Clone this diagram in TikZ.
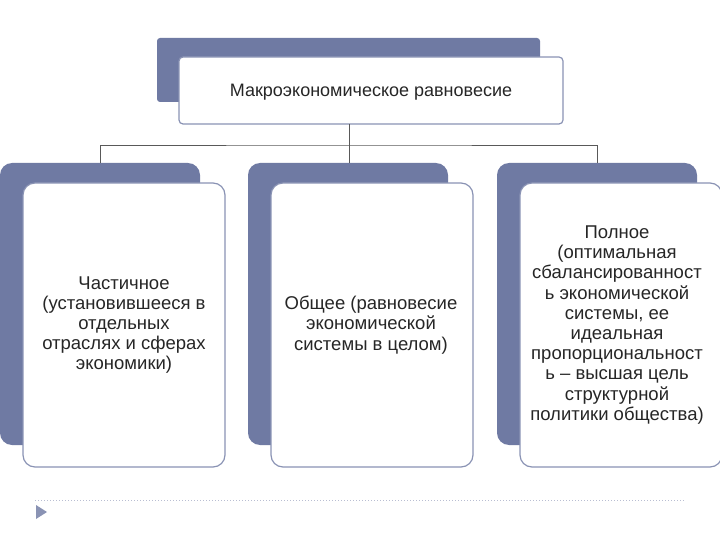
\documentclass[tikz,border=0pt]{standalone}
\usepackage{fontspec}
\setmainfont{Liberation Sans}
\definecolor{slate}{HTML}{6F7AA3}
\definecolor{edge}{HTML}{8A93B4}
\begin{document}
\begin{tikzpicture}[x=1pt,y=-1pt,
  back/.style={fill=slate,draw=none,rounded corners=12pt},
  front/.style={fill=white,draw=edge,line width=1.2pt,rounded corners=12pt},
  txt/.style={align=center,font=\fontsize{18.5}{20.2}\selectfont,text=black!85},
  conn/.style={draw=gray!70!black,line width=0.8pt}]
\useasboundingbox (0,0) rectangle (720,540);
\fill[slate,rounded corners=3pt] (157,38) rectangle (540,102);
\draw[front,rounded corners=4pt] (179,57) rectangle (563,124);
\node[txt,font=\fontsize{18}{20}\selectfont] (top) at (371,92) {Макроэкономическое равновесие};
\coordinate (tb) at (349,124);
\coordinate (j) at (349,145);
\foreach \i/\x/\cx in {1/0/100,2/248/349,3/497/597}{
  \fill[back] (\x,163) rectangle (\x+200,445);
  \draw[front] (\x+23,183) rectangle (\x+225,467);
  \coordinate (c\i) at (\cx,163);
}
\draw[conn] (tb) -- (j);
\draw[conn] (c1) |- (j) -| (c3);
\draw[conn] (j) -- (c2);
\node[txt] (a) at (124,325) {Частичное\\(установившееся в\\отдельных\\отраслях и сферах\\экономики)};
\node[txt] (b) at (371,325) {Общее (равновесие\\экономической\\системы в целом)};
\node[txt] (c) at (617,325) {Полное\\(оптимальная\\сбалансированност\\ь экономической\\системы, ее\\идеальная\\пропорциональност\\ь -- высшая цель\\структурной\\политики общества)};
\draw[edge!60,dotted,line width=1pt] (35,500) -- (685,500);
\fill[edge] (36,505) -- (47,512) -- (36,519) -- cycle;
\end{tikzpicture}
\end{document}
